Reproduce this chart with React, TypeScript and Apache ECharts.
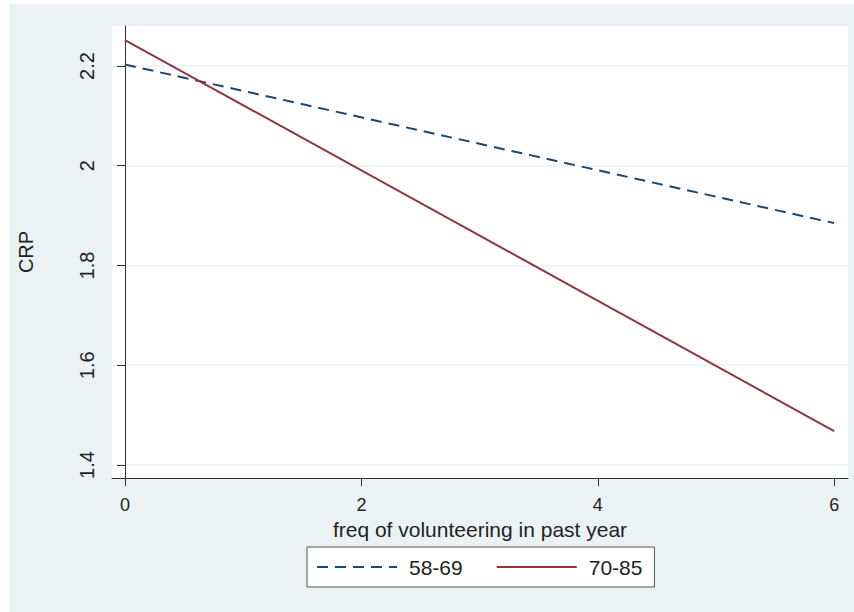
import React, { useEffect, useRef } from "react";
import * as echarts from "echarts";

const xTicks = [0, 2, 4, 6];
const yTicks = [1.4, 1.6, 1.8, 2, 2.2];
const seriesNames = ["58-69", "70-85"];
const xValues = [0, 6];
const values5869 = [2.203, 1.885];
const values7085 = [2.252, 1.468];

const FONT = "'Liberation Sans', Arial, Helvetica, sans-serif";
const BG = "#eaf2f3";
const AXIS = "#333333";

export default function App() {
  const ref = useRef<HTMLDivElement>(null);
  useEffect(() => {
    if (!ref.current) return;
    const chart = echarts.init(ref.current, undefined, { renderer: "svg" });
    const toPairs = (ys: number[]) => xValues.map((x, i) => [x, ys[i]]);
    chart.setOption({
      animation: false,
      textStyle: { fontFamily: FONT },
      graphic: [
        {
          type: "rect",
          z: -100,
          silent: true,
          shape: { x: 9, y: 4, width: 845, height: 608 },
          style: { fill: BG },
        },
      ],
      grid: {
        left: 112,
        top: 26,
        right: 6,
        bottom: 134,
        show: true,
        backgroundColor: "#ffffff",
        borderWidth: 0,
      },
      legend: {
        left: 307,
        top: 547,
        padding: [9, 12, 9, 9],
        backgroundColor: "#ffffff",
        borderColor: "#555555",
        borderWidth: 1,
        borderRadius: 0,
        itemWidth: 80,
        itemHeight: 14,
        itemGap: 33,
        itemStyle: { opacity: 0 },
        textStyle: {
          fontFamily: FONT,
          fontSize: 21,
          color: "#222222",
          lineHeight: 22,
          padding: [0, 0, 0, 7],
        },
        data: seriesNames,
      },
      xAxis: {
        type: "value",
        min: -0.11,
        max: 6.117,
        name: "freq of volunteering in past year",
        nameLocation: "middle",
        nameGap: 29,
        nameTextStyle: { fontFamily: FONT, fontSize: 21, color: "#222222" },
        axisLine: { show: true, lineStyle: { color: AXIS, width: 1 } },
        axisTick: {
          show: true,
          length: 8,
          lineStyle: { color: AXIS },
          customValues: xTicks,
        },
        axisLabel: {
          customValues: xTicks,
          fontFamily: FONT,
          fontSize: 18,
          color: "#222222",
          margin: 18,
        },
        splitLine: { show: false },
      },
      yAxis: {
        type: "value",
        min: 1.3739,
        max: 2.2802,
        name: "CRP",
        nameLocation: "middle",
        nameGap: 76,
        nameTextStyle: { fontFamily: FONT, fontSize: 20, color: "#222222" },
        axisLine: { show: true, lineStyle: { color: AXIS, width: 1 } },
        axisTick: {
          show: true,
          length: 8,
          lineStyle: { color: AXIS },
          customValues: yTicks,
        },
        axisLabel: {
          customValues: yTicks,
          rotate: 90,
          fontFamily: FONT,
          fontSize: 20,
          color: "#222222",
          margin: 15,
        },
        splitLine: { show: true, lineStyle: { color: BG, width: 1.5 } },
      },
      series: [
        {
          name: seriesNames[0],
          type: "line",
          data: toPairs(values5869),
          symbol: "none",
          lineStyle: { color: "#1a476f", width: 2, type: [11, 7] },
          itemStyle: { color: "#1a476f" },
        },
        {
          name: seriesNames[1],
          type: "line",
          data: toPairs(values7085),
          symbol: "none",
          lineStyle: { color: "#90353b", width: 2, type: "solid" },
          itemStyle: { color: "#90353b" },
        },
      ],
    });
    return () => chart.dispose();
  }, []);
  return (
    <div
      ref={ref}
      style={{ position: "absolute", left: 0, top: 0, width: 854, height: 612 }}
    />
  );
}
